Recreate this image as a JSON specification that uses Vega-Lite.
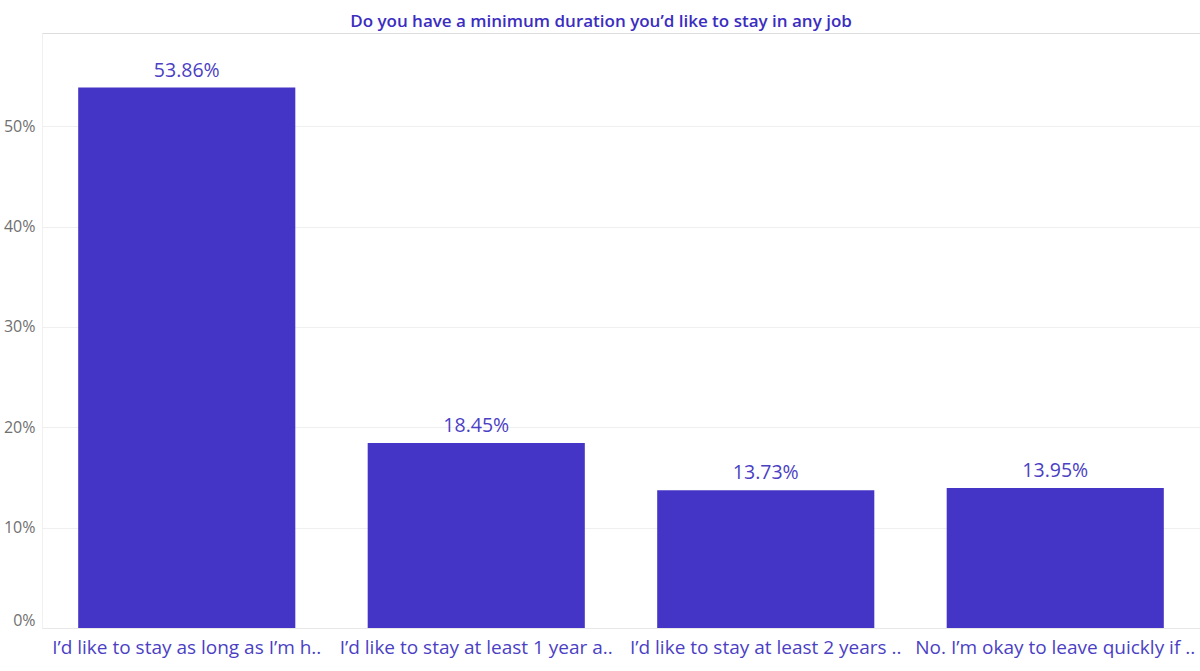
{
  "$schema": "https://vega.github.io/schema/vega-lite/v6.json",
  "autosize": {"type": "none"},
  "width": 1158,
  "height": 595,
  "padding": {"left": 42, "top": 33, "right": 0, "bottom": 43},
  "background": "white",
  "title": {
    "text": "Do you have a minimum duration you’d like to stay in any job",
    "font": "Open Sans",
    "fontSize": 17,
    "fontWeight": 600,
    "color": "#3B2DBF",
    "anchor": "middle",
    "offset": 2,
    "dx": -20
  },
  "data": {
    "values": [
      {"answer": "I’d like to stay as long as I’m h..", "pct": 0.5386},
      {"answer": "I’d like to stay at least 1 year a..", "pct": 0.1845},
      {"answer": "I’d like to stay at least 2 years ..", "pct": 0.1373},
      {"answer": "No. I’m okay to leave quickly if ..", "pct": 0.1395}
    ]
  },
  "encoding": {
    "x": {
      "field": "answer",
      "type": "nominal",
      "sort": null,
      "scale": {"paddingInner": 0.25, "paddingOuter": 0.125},
      "axis": {
        "title": null,
        "labelAngle": 0,
        "labelFont": "Open Sans",
        "labelFontSize": 19,
        "labelColor": "#4B3FC4",
        "labelPadding": 10,
        "ticks": false,
        "domainColor": "#e8e8e8",
        "labelLimit": 320
      }
    },
    "y": {
      "field": "pct",
      "type": "quantitative",
      "scale": {"domain": [0, 0.593], "nice": false},
      "axis": {
        "title": null,
        "values": [0, 0.1, 0.2, 0.3, 0.4, 0.5],
        "format": ".0%",
        "labelFont": "Open Sans",
        "labelFontSize": 16,
        "labelColor": "#707070",
        "labelPadding": 7,
        "labelFlush": true,
        "ticks": false,
        "domain": true,
        "domainColor": "#f0f0f0",
        "gridColor": "#efefef",
        "grid": true
      }
    }
  },
  "layer": [
    {"mark": {"type": "bar", "color": "#4535C6"}},
    {
      "mark": {
        "type": "text",
        "baseline": "bottom",
        "dy": -7,
        "font": "Open Sans",
        "fontSize": 19.5,
        "color": "#4B3FC4"
      },
      "encoding": {
        "text": {"field": "pct", "type": "quantitative", "format": ".2%"}
      }
    }
  ]
}
